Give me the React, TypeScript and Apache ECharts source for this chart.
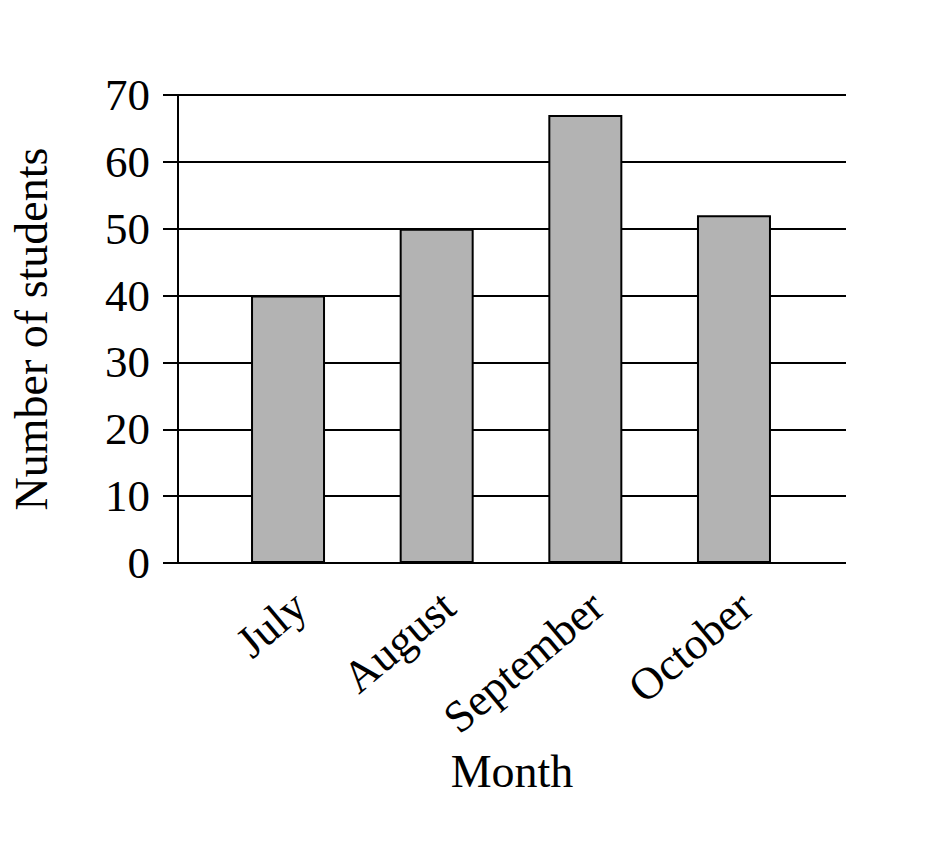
import React, { useEffect, useRef } from "react";
import * as echarts from "echarts";

const months = ["July", "August", "September", "October"];
const students = [40, 50, 67, 52];
const yMin = 0;
const yMax = 70;
const yStep = 10;

const FONT = "'Liberation Serif', 'Times New Roman', serif";

export default function App() {
  const ref = useRef<HTMLDivElement>(null);
  useEffect(() => {
    if (!ref.current) return;
    const chart = echarts.init(ref.current, null, { renderer: "svg" });
    chart.setOption({
      animation: false,
      backgroundColor: "#ffffff",
      grid: [
        { left: 178, right: 80, top: 95, bottom: 283, containLabel: false },
        { left: 213.7, right: 117.7, top: 95, bottom: 283, containLabel: false },
        { left: 225.7, right: 105.7, top: 95, bottom: 283, containLabel: false },
      ],
      xAxis: [
        {
          gridIndex: 0,
          type: "value",
          min: 0,
          max: 1,
          axisLine: { show: false },
          axisTick: { show: false },
          axisLabel: { show: false },
          splitLine: { show: false },
          name: "Month",
          nameLocation: "middle",
          nameGap: 185,
          nameTextStyle: { fontFamily: FONT, fontSize: 46, color: "#000" },
        },
        {
          gridIndex: 1,
          type: "category",
          data: months,
          axisLine: { show: false },
          axisTick: { show: false },
          splitLine: { show: false },
          axisLabel: { show: false },
        },
        {
          gridIndex: 2,
          type: "category",
          data: months,
          axisLine: { show: false },
          axisTick: { show: false },
          splitLine: { show: false },
          axisLabel: {
            rotate: 40,
            margin: 37,
            interval: 0,
            fontFamily: FONT,
            fontSize: 45,
            color: "#000",
          },
        },
      ],
      yAxis: [
        {
          gridIndex: 0,
          type: "value",
          min: yMin,
          max: yMax,
          interval: yStep,
          axisLine: { show: true, lineStyle: { color: "#000", width: 2 } },
          axisTick: { show: true, length: 15, lineStyle: { color: "#000", width: 2 } },
          splitLine: { show: true, lineStyle: { color: "#000", width: 2 } },
          axisLabel: {
            margin: 28,
            fontFamily: FONT,
            fontSize: 45,
            color: "#000",
          },
          name: "Number of students",
          nameLocation: "middle",
          nameGap: 124,
          nameTextStyle: { fontFamily: FONT, fontSize: 46, color: "#000" },
        },
        {
          gridIndex: 1,
          type: "value",
          min: yMin,
          max: yMax,
          interval: yStep,
          show: false,
        },
        {
          gridIndex: 2,
          type: "value",
          min: yMin,
          max: yMax,
          interval: yStep,
          show: false,
        },
      ],
      series: [
        {
          type: "bar",
          xAxisIndex: 1,
          yAxisIndex: 1,
          data: students,
          barWidth: 74,
          itemStyle: { color: "#b3b3b3", borderColor: "#000", borderWidth: 2 },
        },
      ],
    });
    return () => chart.dispose();
  }, []);
  return (
    <div
      ref={ref}
      style={{ position: "fixed", left: 0, top: 0, width: 926, height: 846 }}
    />
  );
}
